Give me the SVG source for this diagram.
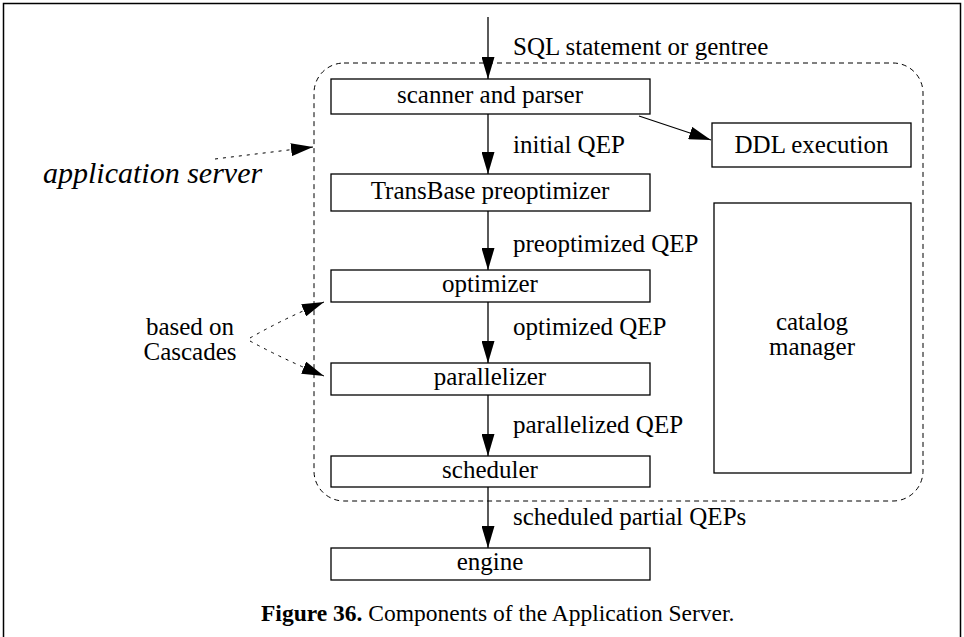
<svg xmlns="http://www.w3.org/2000/svg" width="964" height="637" viewBox="0 0 964 637">
  <style>
    text { font-family: "Liberation Serif", "Times New Roman", serif; fill: #000; }
    .lbl { font-size: 25px; }
    .mid { text-anchor: middle; }
    .box { fill: #fff; stroke: #000; stroke-width: 1.3; }
    .flow { fill: none; stroke: #000; stroke-width: 1.3; }
    .hint { fill: none; stroke: #000; stroke-width: 1; stroke-dasharray: 3 5; }
    .region { fill: none; stroke: #000; stroke-width: 1; stroke-dasharray: 5 4; }
  </style>
  <defs>
    <marker id="head" markerUnits="userSpaceOnUse" markerWidth="22" markerHeight="13" refX="22" refY="6.5" orient="auto">
      <path d="M0,0 L22,6.5 L0,13 z" fill="#000"/>
    </marker>
  </defs>

  <rect width="964" height="637" fill="#fff"/>
  <!-- figure frame (open at the bottom edge of the page) -->
  <rect x="3.5" y="3.5" width="957" height="700" fill="none" stroke="#000" stroke-width="1.5"/>

  <!-- application server boundary -->
  <rect id="app-server-region" class="region" x="314" y="63" width="609" height="438" rx="30" ry="30"/>

  <!-- components -->
  <g id="scanner">
    <rect class="box" x="331" y="79" width="319" height="35"/>
    <text class="lbl mid" x="490" y="103">scanner and parser</text>
  </g>
  <g id="preoptimizer">
    <rect class="box" x="331" y="174" width="319" height="37"/>
    <text class="lbl mid" x="490" y="199">TransBase preoptimizer</text>
  </g>
  <g id="optimizer">
    <rect class="box" x="331" y="270" width="319" height="32"/>
    <text class="lbl mid" x="490" y="292">optimizer</text>
  </g>
  <g id="parallelizer">
    <rect class="box" x="331" y="363" width="319" height="32"/>
    <text class="lbl mid" x="490" y="385">parallelizer</text>
  </g>
  <g id="scheduler">
    <rect class="box" x="331" y="456" width="319" height="31"/>
    <text class="lbl mid" x="490" y="478">scheduler</text>
  </g>
  <g id="engine">
    <rect class="box" x="331" y="548" width="319" height="32"/>
    <text class="lbl mid" x="490" y="570">engine</text>
  </g>
  <g id="ddl">
    <rect class="box" x="712" y="123" width="199" height="44"/>
    <text class="lbl mid" x="811.5" y="153">DDL execution</text>
  </g>
  <g id="catalog">
    <rect class="box" x="714" y="203" width="197" height="270"/>
    <text class="lbl mid" x="812" y="330">catalog</text>
    <text class="lbl mid" x="812" y="355">manager</text>
  </g>

  <!-- connectors -->
  <g id="connectors">
    <line class="flow" x1="488" y1="17" x2="488" y2="79" marker-end="url(#head)"/>
    <line class="flow" x1="488" y1="114" x2="488" y2="174" marker-end="url(#head)"/>
    <line class="flow" x1="488" y1="211" x2="488" y2="270" marker-end="url(#head)"/>
    <line class="flow" x1="488" y1="302" x2="488" y2="363" marker-end="url(#head)"/>
    <line class="flow" x1="488" y1="395" x2="488" y2="456" marker-end="url(#head)"/>
    <line class="flow" x1="488" y1="487" x2="488" y2="548" marker-end="url(#head)"/>
    <line class="flow" x1="639" y1="116" x2="711" y2="140" marker-end="url(#head)"/>
    <!-- annotation pointers -->
    <line class="hint" x1="215" y1="159" x2="313" y2="147" marker-end="url(#head)"/>
    <path class="hint" d="M250,338 Q285,318 324,302" marker-end="url(#head)"/>
    <path class="hint" d="M250,341 Q285,360 324,376" marker-end="url(#head)"/>
  </g>

  <!-- flow labels -->
  <text class="lbl" x="513" y="55">SQL statement or gentree</text>
  <text class="lbl" x="513" y="153">initial QEP</text>
  <text class="lbl" x="513" y="252">preoptimized QEP</text>
  <text class="lbl" x="513" y="335">optimized QEP</text>
  <text class="lbl" x="513" y="433">parallelized QEP</text>
  <text class="lbl" x="513" y="525">scheduled partial QEPs</text>

  <!-- annotations -->
  <text x="43" y="183" font-size="30" font-style="italic">application server</text>
  <text class="lbl mid" x="190" y="335">based on</text>
  <text class="lbl mid" x="190" y="360">Cascades</text>

  <!-- caption -->
  <text x="261" y="621" font-size="23.5"><tspan font-weight="bold">Figure 36.</tspan> Components of the Application Server.</text>
</svg>
